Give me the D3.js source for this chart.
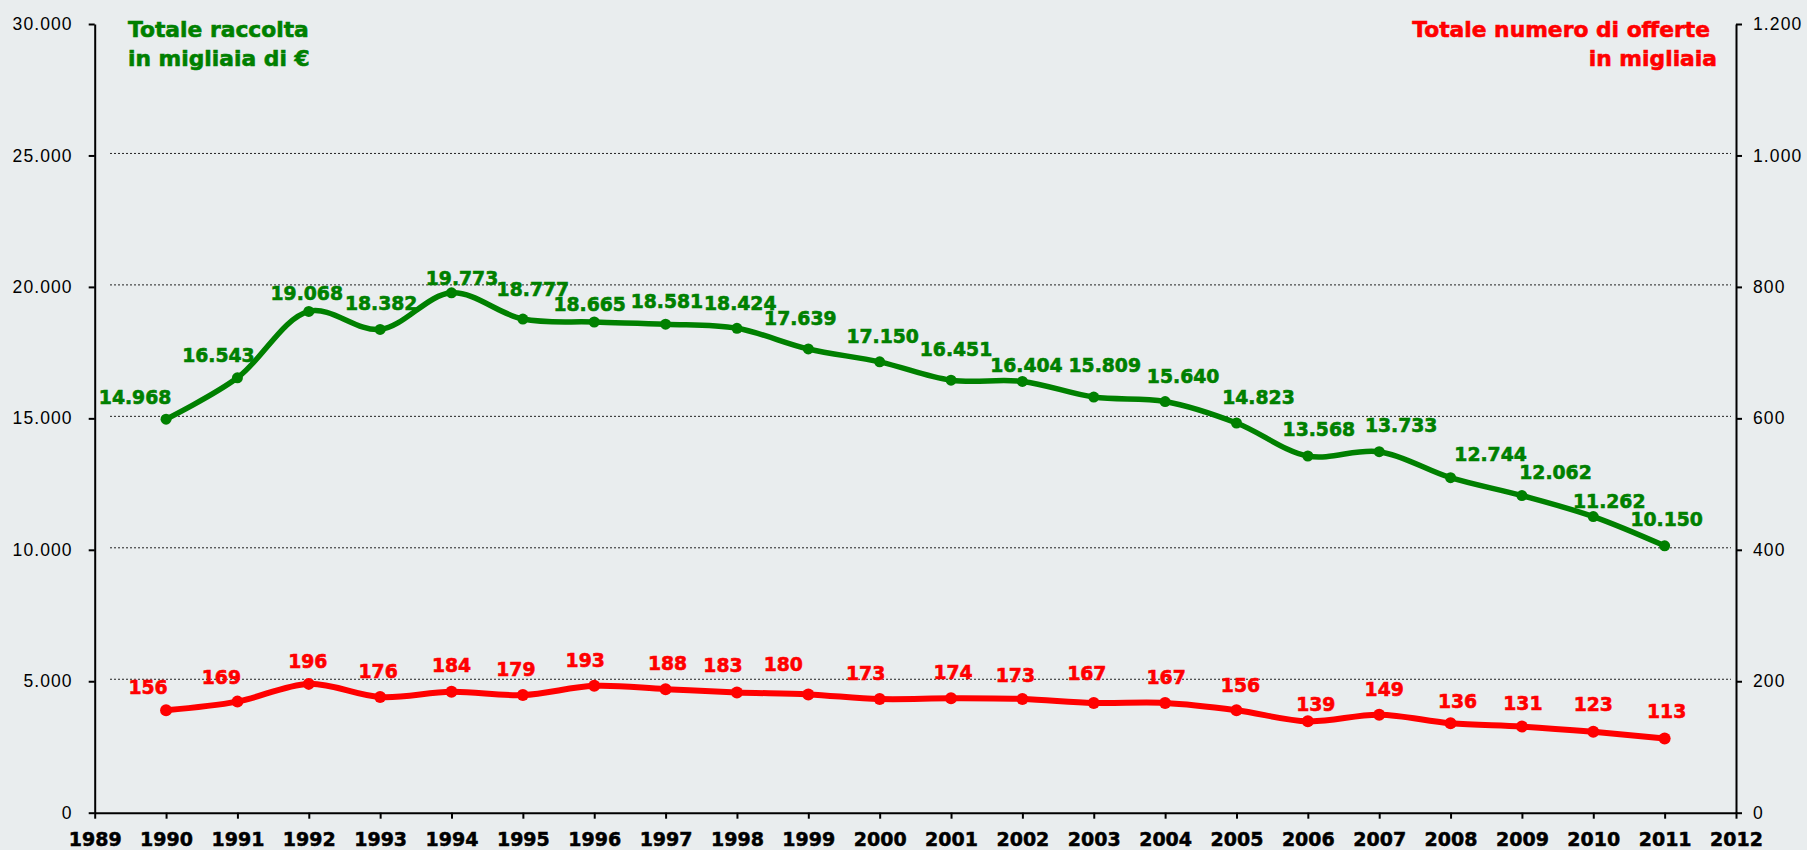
<!DOCTYPE html>
<html>
<head>
<meta charset="utf-8">
<script src="https://cdn.jsdelivr.net/npm/d3@7"></script>
<style>
  html, body { margin: 0; padding: 0; background: #e9edee; }
  svg { display: block; }
</style>
</head>
<body>
<svg id="chart" width="1807" height="850"></svg>
<script>
// ---------- DATA ----------
const years = [1990,1991,1992,1993,1994,1995,1996,1997,1998,1999,2000,2001,2002,2003,2004,2005,2006,2007,2008,2009,2010,2011];
const raccolta = [14968,16543,19068,18382,19773,18777,18665,18581,18424,17639,17150,16451,16404,15809,15640,14823,13568,13733,12744,12062,11262,10150];
const offerte = [156,169,196,176,184,179,193,188,183,180,173,174,173,167,167,156,139,149,136,131,123,113];
const xTickYears = d3.range(1989, 2013);
const leftTicks = [0,5000,10000,15000,20000,25000,30000];
const rightTicks = [0,200,400,600,800,1000,1200];
const gridTicks = [5000,10000,15000,20000,25000];
const legendGreen = ["Totale raccolta", "in migliaia di €"];
const legendRed = ["Totale numero di offerte", "in migliaia"];

// ---------- LABEL OFFSETS (style, px from marker to label centre) ----------
const greenDx = [-31,-19,-2,1,10.5,10,-4.6,1.3,3.3,-8,3,5,4,11,18,22,11,22,40,33.6,16,2];
const greenDy = [-22,-23,-18.5,-26.5,-14.5,-30,-17.3,-22.7,-25.3,-31,-25.5,-31.2,-16.2,-32.2,-25.5,-25.5,-26.7,-26,-23,-23,-15,-27];
const redDx = [-18,-16,-1,-2,0,-7,-9,2,-14,-25,-14,2,-7,-7,1,4,8,5,7,1,0,2];
const redDy = [-23,-24,-23,-26,-27,-25.5,-26,-25.5,-27,-30.5,-26,-26,-24,-30,-26,-25,-17,-26,-22,-23,-27.5,-27];

// ---------- SETUP ----------
const GREEN = "#008000", RED = "#ff0000";
const loc = d3.formatLocale({decimal: ",", thousands: ".", grouping: [3], currency: ["", "€"]});
const fmt = loc.format(",d");

const svg = d3.select("#chart");
const pLeft = 94.7, pRight = 1736, pTop = 24, pBottom = 812.7;

const x = d3.scaleLinear().domain([1989, 2012]).range([pLeft, pRight]);
const yL = d3.scaleLinear().domain([0, 30000]).range([pBottom, pTop]);
const yR = d3.scaleLinear().domain([0, 1200]).range([pBottom, pTop]);

// gridlines
svg.append("g").selectAll("line").data(gridTicks).join("line")
  .attr("x1", 110).attr("x2", 1731)
  .attr("y1", d => yL(d) - 2).attr("y2", d => yL(d) - 2)
  .attr("stroke", "#222").attr("stroke-width", 1)
  .attr("stroke-dasharray", "2,2");

// axes
const axisStyle = g => {
  g.select(".domain").attr("stroke", "#000").attr("stroke-width", 2);
  g.selectAll(".tick line").attr("stroke", "#000").attr("stroke-width", 2);
};

const gL = svg.append("g").attr("transform", `translate(${pLeft},0)`)
  .call(d3.axisLeft(yL).tickValues(leftTicks).tickFormat(fmt).tickSize(6).tickSizeOuter(0).tickPadding(16));
axisStyle(gL);
gL.selectAll(".tick text").attr("font-family", "Liberation Sans, Arial, sans-serif")
  .attr("font-size", 17.5).attr("letter-spacing", 1.1).attr("fill", "#000");

const gR = svg.append("g").attr("transform", `translate(${pRight},0)`)
  .call(d3.axisRight(yR).tickValues(rightTicks).tickFormat(fmt).tickSize(6).tickSizeOuter(0).tickPadding(11));
axisStyle(gR);
gR.selectAll(".tick text").attr("font-family", "Liberation Sans, Arial, sans-serif")
  .attr("font-size", 17.5).attr("letter-spacing", 1.1).attr("fill", "#000");

const gB = svg.append("g").attr("transform", `translate(0,${pBottom})`)
  .call(d3.axisBottom(x).tickValues(xTickYears).tickFormat(d3.format("d")).tickSize(6).tickSizeOuter(0).tickPadding(14));
axisStyle(gB);
gB.selectAll(".tick text").attr("font-family", "DejaVu Sans, Verdana, sans-serif")
  .attr("font-weight", "bold").attr("font-size", 19).attr("fill", "#000")
  .attr("stroke", "#000").attr("stroke-width", 0.5);

// lines
const lineG = d3.line().x((d, i) => x(years[i])).y(d => yL(d)).curve(d3.curveCatmullRom.alpha(0.5));
const lineR = d3.line().x((d, i) => x(years[i])).y(d => yR(d)).curve(d3.curveCatmullRom.alpha(0.5));

svg.append("path").datum(raccolta).attr("d", lineG)
  .attr("fill", "none").attr("stroke", GREEN).attr("stroke-width", 5.5).attr("stroke-linejoin", "round");
svg.append("path").datum(offerte).attr("d", lineR)
  .attr("fill", "none").attr("stroke", RED).attr("stroke-width", 6).attr("stroke-linejoin", "round");

// markers
svg.append("g").selectAll("circle").data(raccolta).join("circle")
  .attr("cx", (d, i) => x(years[i])).attr("cy", d => yL(d)).attr("r", 5.5).attr("fill", GREEN);
svg.append("g").selectAll("circle").data(offerte).join("circle")
  .attr("cx", (d, i) => x(years[i])).attr("cy", d => yR(d)).attr("r", 6).attr("fill", RED);

// labels
const labelFont = "DejaVu Sans, Verdana, sans-serif";
svg.append("g").selectAll("text").data(raccolta).join("text")
  .attr("x", (d, i) => x(years[i]) + greenDx[i])
  .attr("y", (d, i) => yL(d) + greenDy[i])
  .attr("dy", "0.36em").attr("text-anchor", "middle")
  .attr("font-family", labelFont).attr("font-weight", "bold").attr("font-size", 18.8)
  .attr("fill", GREEN).attr("stroke", GREEN).attr("stroke-width", 0.6).text(d => fmt(d));

svg.append("g").selectAll("text").data(offerte).join("text")
  .attr("x", (d, i) => x(years[i]) + redDx[i])
  .attr("y", (d, i) => yR(d) + redDy[i])
  .attr("dy", "0.36em").attr("text-anchor", "middle")
  .attr("font-family", labelFont).attr("font-weight", "bold").attr("font-size", 18.8)
  .attr("fill", RED).attr("stroke", RED).attr("stroke-width", 0.6).text(d => fmt(d));

// legends
svg.append("g").selectAll("text").data(legendGreen).join("text")
  .attr("x", 128).attr("y", (d, i) => 37 + i * 29)
  .attr("font-family", labelFont).attr("font-weight", "bold").attr("font-size", 21.8)
  .attr("fill", GREEN).attr("stroke", GREEN).attr("stroke-width", 0.6).text(d => d);

const redLegendX = [1710, 1717];
svg.append("g").selectAll("text").data(legendRed).join("text")
  .attr("x", (d, i) => redLegendX[i]).attr("y", (d, i) => 37 + i * 29)
  .attr("text-anchor", "end")
  .attr("font-family", labelFont).attr("font-weight", "bold").attr("font-size", 21.8)
  .attr("fill", RED).attr("stroke", RED).attr("stroke-width", 0.6).text(d => d);
</script>
</body>
</html>
